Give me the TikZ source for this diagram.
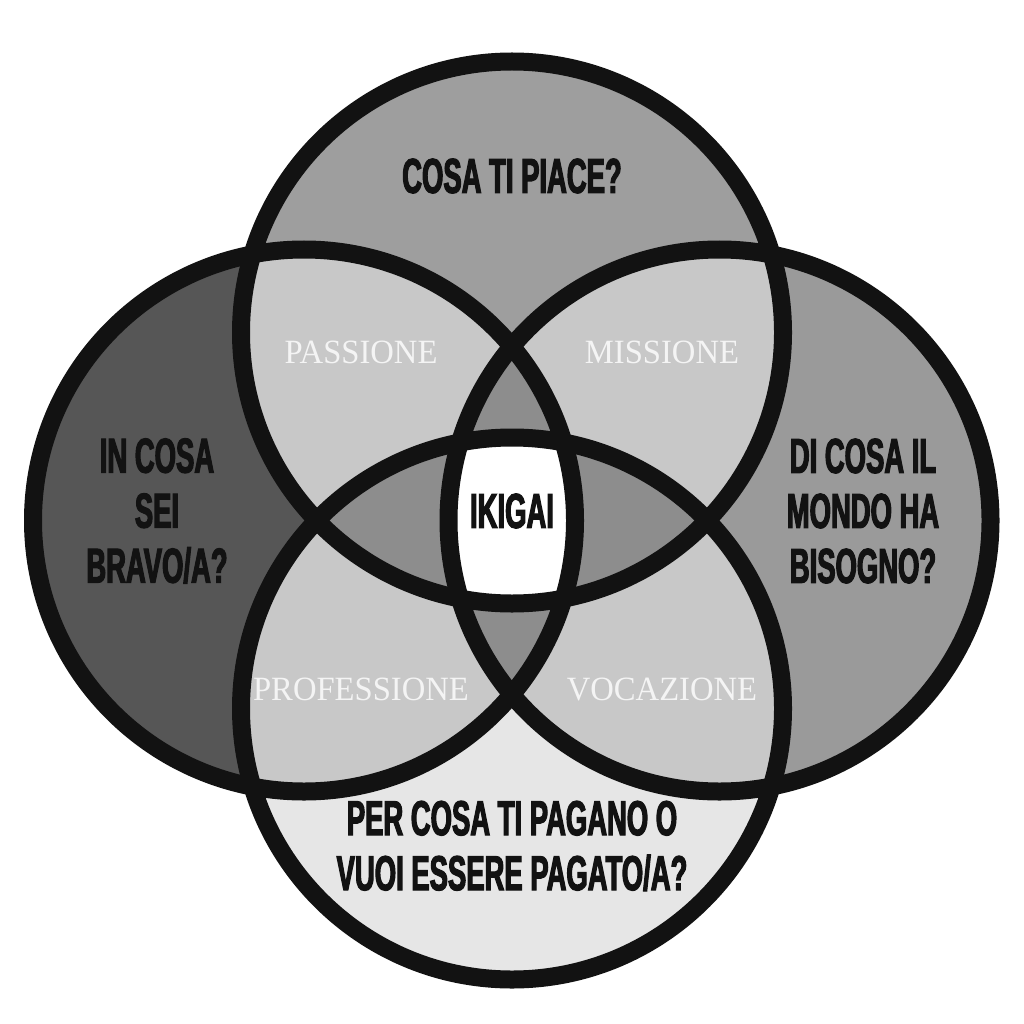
\documentclass[tikz,border=0pt]{standalone}
\usepackage{fontspec}
\newfontfamily\headfont[FakeStretch=0.56,FakeBold=2.4]{Liberation Sans}
\newfontfamily\labfont[FakeStretch=0.96]{Liberation Serif}
\definecolor{cTop}{HTML}{9E9E9E}
\definecolor{cLeft}{HTML}{565656}
\definecolor{cRight}{HTML}{9A9A9A}
\definecolor{cBot}{HTML}{E6E6E6}
\definecolor{cPair}{HTML}{C8C8C8}
\definecolor{cTri}{HTML}{8D8D8D}
\definecolor{ink}{HTML}{121212}
\definecolor{lab}{HTML}{F4F4F4}
\tikzset{
  head/.style={font=\headfont\bfseries\fontsize{49}{55}\selectfont, text=ink, align=center, inner sep=0pt},
  lbl/.style={font=\labfont\fontsize{34}{36}\selectfont, text=lab, inner sep=0pt},
  ring/.style={draw=ink, line width=18pt},
}
\def\Rad{271pt}
\begin{document}
\begin{tikzpicture}[x=1pt,y=-1pt]
\useasboundingbox[fill=white] (0,0) rectangle (1024,1024);
\coordinate (T) at (512,332.5);
\coordinate (B) at (512,708.5);
\coordinate (L) at (304,520.5);
\coordinate (R) at (719.5,520.5);
% single regions
\fill[cTop] (T) circle[radius=\Rad];
\fill[cLeft] (L) circle[radius=\Rad];
\fill[cRight] (R) circle[radius=\Rad];
\fill[cBot] (B) circle[radius=\Rad];
% pair regions
\begin{scope}
  \clip (T) circle[radius=\Rad];
  \fill[cPair] (L) circle[radius=\Rad];
  \fill[cPair] (R) circle[radius=\Rad];
\end{scope}
\begin{scope}
  \clip (B) circle[radius=\Rad];
  \fill[cPair] (L) circle[radius=\Rad];
  \fill[cPair] (R) circle[radius=\Rad];
\end{scope}
% triple regions
\begin{scope}
  \clip (T) circle[radius=\Rad];
  \clip (L) circle[radius=\Rad];
  \fill[cTri] (R) circle[radius=\Rad];
  \fill[cTri] (B) circle[radius=\Rad];
\end{scope}
\begin{scope}
  \clip (B) circle[radius=\Rad];
  \clip (R) circle[radius=\Rad];
  \fill[cTri] (T) circle[radius=\Rad];
  \fill[cTri] (L) circle[radius=\Rad];
\end{scope}
% centre
\begin{scope}
  \clip (T) circle[radius=\Rad];
  \clip (L) circle[radius=\Rad];
  \clip (R) circle[radius=\Rad];
  \fill[white] (B) circle[radius=\Rad];
\end{scope}
% outlines
\draw[ring] (T) circle[radius=\Rad];
\draw[ring] (L) circle[radius=\Rad];
\draw[ring] (R) circle[radius=\Rad];
\draw[ring] (B) circle[radius=\Rad];
% texts
\node[head] (qtop) at (512,176) {COSA TI PIACE?};
\node[head] (qleft) at (157,511) {IN COSA\\SEI\\BRAVO/A?};
\node[head] (qright) at (863,511) {DI COSA IL\\MONDO HA\\BISOGNO?};
\node[head] (qbot) at (512,846) {PER COSA TI PAGANO O\\VUOI ESSERE PAGATO/A?};
\node[head] (ikigai) at (512,511) {IKIGAI};
\node[lbl] (passione) at (361,352) {PASSIONE};
\node[lbl] (missione) at (662,352) {MISSIONE};
\node[lbl] (professione) at (361,689) {PROFESSIONE};
\node[lbl] (vocazione) at (662,689) {VOCAZIONE};
\end{tikzpicture}
\end{document}
